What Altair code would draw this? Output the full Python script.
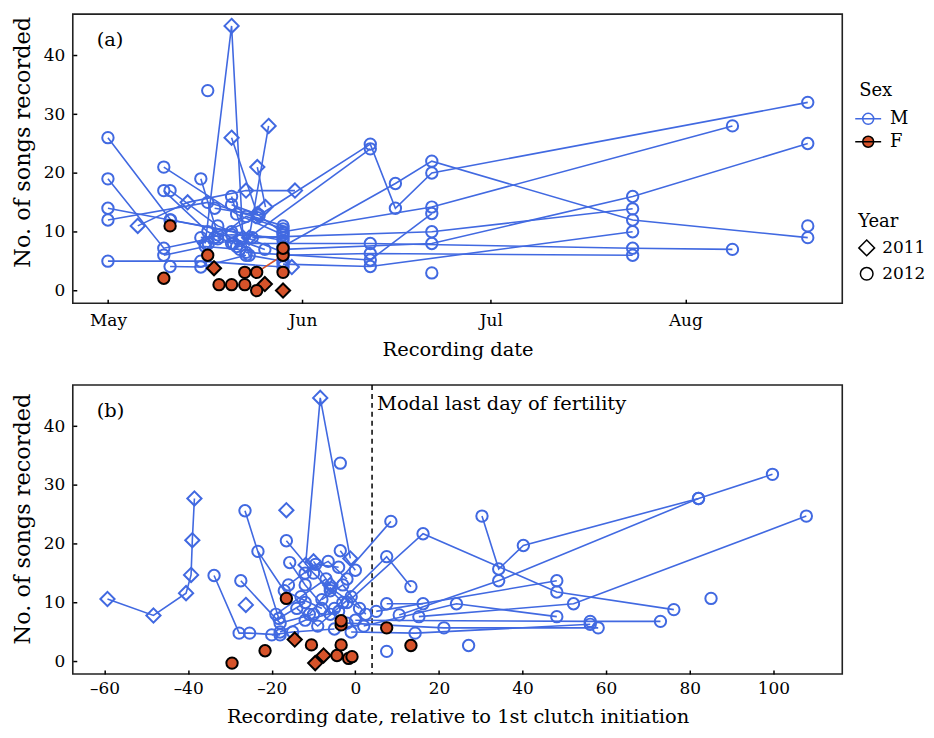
import json
import altair as alt
import pandas as pd

FONT = "DejaVu Serif"
BLUE = "#4169E1"
RED = "#D6532A"

MONTH_DAYS = [0, 31, 61, 92]
MONTH_LABELS = ["May", "Jun", "Jul", "Aug"]

A_X = [
    [4.75, 12.7, 22, 29.8], [15.5, 19.7, 21.5], [19.7, 23.8], [22.5, 25.6], [23.8, 25.1], [29.3],
    [0, 10, 27.9], [0, 8.9, 17], [0, 9.9, 19.7], [0, 15.9, 27.9], [0, 14.8, 27.9],
    [8.9, 20.5, 27.9], [8.9, 15.9, 19.7], [9.9, 17.5, 27.9], [8.9, 15.5, 21], [9.9, 14.8, 22],
    [14.8, 17.5, 23.8], [15.9], [19.7, 22.5, 27.9], [19.7, 23.8, 27.9],
    [17, 24.1, 41.8, 45.8, 51.6, 111.5], [27.9, 45.8, 51.6, 83.6, 111.5], [27.9, 51.6, 99.5],
    [23, 51.6, 83.6], [27.9, 51.6, 83.6, 111.5], [20, 41.8, 83.6, 99.5], [27.9, 41.8, 83.6],
    [22, 41.8, 51.6], [27.9, 41.8, 83.6], [51.6], [111.5], [14.8, 19.7, 27.9], [16, 21, 25],
    [20.5, 41.8], [17.5, 22, 27.9],
    [16.9], [25], [27.9],
    [23.7, 27.9], [8.9], [9.9], [15.9], [17.7], [19.7], [21.8], [21.8], [23.7], [27.9], [27.9],
]
A_Y = [
    [11, 15, 17, 17], [8, 45, 9], [26, 13], [9, 28], [21, 14.2], [4],
    [26, 12, 8.5], [19, 7.2, 9], [14, 12, 10], [12, 15, 11], [5, 5, 4],
    [21, 13, 9.5], [17, 10, 8], [17, 11, 6.5], [6, 7.5, 7], [4.1, 4, 6],
    [19, 9.5, 12.4], [34], [16, 6, 5], [14.6, 13, 9.8],
    [14, 12.8, 24.9, 14, 20, 32], [7.5, 18.2, 22, 12, 9], [10, 14.2, 28],
    [9, 10, 13.9], [7, 8, 16, 25], [8, 8, 7.2, 7], [6, 6.3, 6],
    [6.5, 5.2, 13.1], [4.5, 4.1, 10], [3], [11], [9, 9.5, 9], [8, 8.5, 7],
    [7.5, 24.1], [8.8, 12.6, 10.5],
    [3.8], [1.1], [0],
    [3.1, 6.0], [2.1], [11], [6], [1], [1], [1], [3.1], [0], [7.2], [3.1],
]
A_SEX = ["M"] * 35 + ["F"] * 14
A_YEAR = ["2011"] * 6 + ["2012"] * 29 + ["2011"] * 3 + ["2012"] * 11

B_TICKS = [-60, -40, -20, 0, 20, 40, 60, 80, 100]
MODAL_DAY = [4]

B_X = [
    [-59.3, -48.3, -40.5, -39.3, -39.0, -38.5], [-26.2], [-16.5], [-11.9, -8.4, -1.2], [-10, -6],
    [-33.8, -27.8, -25.3, -18], [-27.4, -18, -10], [-26.4, -18.3, -12], [-23.3, -17, -8],
    [-16.5, -10, -3], [-15.7, -12, -6], [-3.6], [-3.6, 0], [-6, 8.5], [-2, 16.2, 48.2, 76.2],
    [-5, 7.5, 13.3], [30.3, 34.3, 40.2, 82.1, 99.8], [10.5, 34.3, 82.1], [2, 24.2, 48.2],
    [15.2, 52.2, 107.9], [5, 48.2], [0, 56.2, 73], [-2, 21.2, 58.1], [-1, 14.3, 56.2],
    [85.1], [27.1], [7.5], [7.5, 16.2], [-19, -13, -7], [-18, -12, -4], [-14, -9, -1],
    [-20, -15, -5], [-11, -6, 1], [-16, -9.5, -4], [-12, -6.5, -2], [-8, -3, 2.5],
    [-29.5], [-21.6], [-16.5], [-14.5], [-10.5], [-9.6], [-7.6], [-4.4], [-3.4], [-3.4],
    [-3.4], [-1.6], [-0.8], [7.5], [13.3],
]
B_Y = [
    [10.6, 7.8, 11.6, 14.7, 20.6, 27.7], [9.6], [25.7], [16.4, 44.8, 17.5], [17, 13],
    [14.6, 4.8, 4.8, 4.5], [13.7, 6.5, 8], [25.6, 7.3, 10], [18.7, 12, 9],
    [20.5, 15, 10], [16.8, 13, 8], [33.7], [18.8, 15.5], [12, 23.8], [10, 21.7, 11.8, 8.8],
    [9, 17.8, 12.7], [24.7, 15.7, 19.7, 27.7, 31.8], [7.9, 13.7, 27.7], [6, 9.8, 7.6],
    [7.6, 9.8, 24.7], [8.5, 13.7], [7, 6.8, 6.8], [6.5, 5.7, 5.7], [5, 4.8, 6.3],
    [10.7], [2.7], [1.7], [9.8, 9.8], [8, 11, 14], [5, 7, 8.5], [9, 6, 11],
    [4.5, 5, 5.5], [8, 12.5, 9], [13, 16.5, 16], [15, 17, 14], [10.5, 13, 8],
    [-0.3], [1.8], [10.7], [3.7], [2.8], [-0.3], [1], [1], [2.8], [6.2],
    [6.9], [0.5], [0.8], [5.7], [2.7],
]
B_SEX = ["M"] * 36 + ["F"] * 15
B_YEAR = (["2011"] * 5 + ["2012"] * 31 +
          ["2012", "2012", "2012", "2011", "2012", "2011", "2011", "2012", "2012", "2012",
           "2012", "2012", "2012", "2012", "2012"])

Y_TICKS = [0, 10, 20, 30, 40]
SEX_DOMAIN = ["M", "F"]
YEAR_DOMAIN = ["2011", "2012"]
LINE_COLOURS = {"M": BLUE, "F": RED}


def build(xs, ys, sexes, years):
    rows = []
    for i, (xl, yl, s, yr) in enumerate(zip(xs, ys, sexes, years)):
        for j, (x, y) in enumerate(zip(xl, yl)):
            rows.append(dict(ind=i, seq=j, sex=s, lcol=LINE_COLOURS[s], year=yr, x=x, y=y))
    df = pd.DataFrame(rows)
    df["z"] = (df["sex"] == "F").astype(int)
    return df.sort_values(["z", "ind", "seq"]).reset_index(drop=True)


dfa = build(A_X, A_Y, A_SEX, A_YEAR)
dfb = build(B_X, B_Y, B_SEX, B_YEAR)

DIAMOND = "M0,-1.25L1.25,0L0,1.25L-1.25,0Z"
SEX_SYMBOL = ("M-1.1,0C-1.1,-0.61,-0.61,-1.1,0,-1.1C0.61,-1.1,1.1,-0.61,1.1,0"
              "C1.1,0.61,0.61,1.1,0,1.1C-0.61,1.1,-1.1,0.61,-1.1,0Z"
              "M-2.6,0L2.6,0")

fill_scale = alt.Scale(domain=SEX_DOMAIN, range=["rgba(255,255,255,0)", RED])
stroke_scale = alt.Scale(domain=SEX_DOMAIN, range=[BLUE, "black"])
shape_scale = alt.Scale(domain=YEAR_DOMAIN, range=[DIAMOND, "circle"])

sex_legend = alt.Legend(title="Sex", orient="none", legendX=789, legendY=68,
                        symbolType=SEX_SYMBOL, symbolSize=100,
                        symbolStrokeWidth=1.5, labelOffset=13, titlePadding=10)
year_legend = alt.Legend(title="Year", orient="none", legendX=788, legendY=200,
                         symbolStrokeColor="black", symbolFillColor="transparent",
                         symbolStrokeWidth=1.5, symbolSize=160, labelOffset=7,
                         labelFontSize=17, titlePadding=8)

Y_DOMAIN = [-2.15, 47]


def panel(df, xenc, letter, title_y, extra=None):
    yenc = alt.Y("y:Q", scale=alt.Scale(domain=Y_DOMAIN, nice=False, zero=False),
                 axis=alt.Axis(values=Y_TICKS, title="No. of songs recorded",
                               labelPadding=8, titlePadding=9, titleFontSize=22.5,
                               titleY=title_y))
    lines = alt.Chart(df).mark_line(strokeWidth=1.6).encode(
        x=xenc, y=yenc,
        color=alt.Color("lcol:N", scale=None),
        detail="ind:N", order="seq:Q")
    pts = alt.Chart(df).mark_point(filled=True, opacity=1,
                                   strokeWidth=2, size=130).encode(
        x=xenc, y=yenc,
        shape=alt.Shape("year:N", scale=shape_scale, legend=year_legend),
        fill=alt.Fill("sex:N", scale=fill_scale, legend=sex_legend),
        stroke=alt.Stroke("sex:N", scale=stroke_scale, legend=sex_legend))
    lab = alt.Chart(pd.DataFrame({"t": [letter]})).mark_text(
        align="left", baseline="middle", font=FONT, fontSize=19.5, color="black").encode(
        x=alt.value(24), y=alt.value(26), text="t:N")
    layers = [lines, pts, lab]
    if extra:
        layers = extra + layers
    return alt.layer(*layers).properties(width=772, height=290)


label_expr = "{}[indexof({}, datum.value)]".format(json.dumps(MONTH_LABELS), json.dumps(MONTH_DAYS))
xa = alt.X("x:Q", scale=alt.Scale(domain=[-5.6, 117], nice=False, zero=False),
           axis=alt.Axis(values=MONTH_DAYS, labelExpr=label_expr, title="Recording date",
                         labelPadding=9, titlePadding=12))
xb = alt.X("x:Q", scale=alt.Scale(domain=[-67.6, 116.5], nice=False, zero=False),
           axis=alt.Axis(values=B_TICKS, title="Recording date, relative to 1st clutch initiation",
                         labelPadding=7, titlePadding=11,
                         labelExpr="datum.value < 0 ? '\u2013' + abs(datum.value) : datum.label"))

modal_df = pd.DataFrame({"x": MODAL_DAY, "t": ["Modal last day of fertility"]})
rule = alt.Chart(modal_df).mark_rule(strokeDash=[5, 4], color="black", strokeWidth=1.5).encode(x=xb)
mtext = alt.Chart(modal_df).mark_text(align="left", baseline="middle", dx=5, font=FONT,
                                      fontSize=19.5, color="black").encode(
    x=xb, y=alt.value(19), text="t:N")

pa = panel(dfa, xa, "(a)", 128)
pb = panel(dfb, xb, "(b)", 134, extra=[rule, mtext])

chart = alt.vconcat(pa, pb, spacing=23).resolve_scale(
    x="independent", y="independent"
).properties(
    padding={"left": 2, "top": 4, "right": 0, "bottom": 0}
).configure_view(stroke="#222", strokeWidth=1.6).configure_axis(
    labelFont=FONT, titleFont=FONT, labelFontSize=17, titleFontSize=19.5,
    titleFontWeight="normal", labelColor="black", titleColor="black",
    domain=False, grid=False, tickColor="black", tickWidth=1.5, tickSize=4, offset=-4
).configure_legend(
    labelFont=FONT, titleFont=FONT, labelFontSize=18, titleFontSize=18,
    titleFontWeight="normal", labelColor="black", titleColor="black", rowPadding=5
)

chart.save("out.html", embed_options={"renderer": "svg", "actions": False})
